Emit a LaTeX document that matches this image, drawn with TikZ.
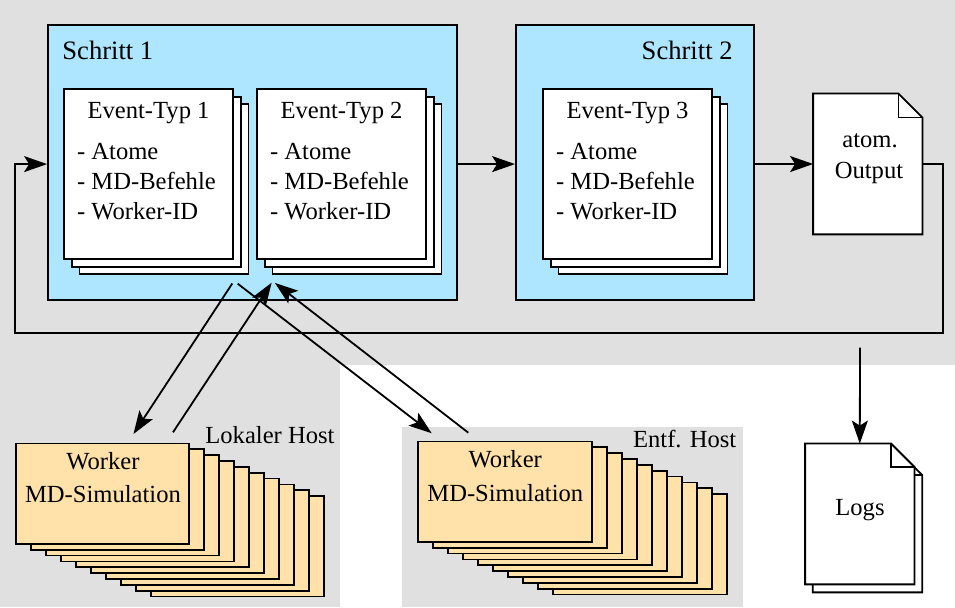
\documentclass[tikz,border=0pt]{standalone}
\usepackage{fontspec}
\setmainfont{Liberation Serif}
\usetikzlibrary{shadows,arrows.meta,calc}

\definecolor{hostgray}{RGB}{224,224,224}
\definecolor{stepblue}{RGB}{173,230,254}
\definecolor{workerorange}{RGB}{255,225,170}

\tikzset{
    arrow/.style={-{Stealth[length=11.5pt,width=8pt,inset=2.5pt]},line width=0.9pt},
    stepbox/.style={draw,line width=0.9pt,fill=stepblue},
    eventbox/.style={draw,line width=0.9pt,fill=white,minimum width=84.5pt,minimum height=85pt,
        double copy shadow={shadow xshift=3.85pt,shadow yshift=-3.85pt,draw,line width=0.9pt,fill=white}},
    workerbox/.style={draw,line width=0.9pt,fill=workerorange,minimum width=86.8pt,minimum height=50.2pt,inner sep=0pt},
    docbox/.style={minimum width=54.3pt,minimum height=70pt,inner sep=0pt},
    txt/.style={inner sep=0pt,font=\fontsize{12.3}{15}\selectfont},
}

\begin{document}
\begin{tikzpicture}[x=0.5pt,y=-0.5pt]
        \useasboundingbox (0,0) rectangle (955,608);
        % hosts
        \fill[hostgray] (0,0) rectangle (955,365);
        \fill[hostgray] (0,365) rectangle (340,607);
        \fill[hostgray] (402,427) rectangle (743,607);

        % steps
        \node[stepbox,minimum width=204.5pt,minimum height=137.5pt] (s1) at (252.5,162.5) {};
        \node[stepbox,minimum width=119pt,minimum height=137.5pt] (s2) at (635,162.5) {};
        \node[txt,anchor=base west,font=\fontsize{13.3}{15}\selectfont] (s1-label) at (62,60) {Schritt 1};
        \node[txt,anchor=base east,font=\fontsize{13.3}{15}\selectfont] (s2-label) at (733,60) {Schritt 2};

        \foreach \n/\x/\t in {e1/148.5/1, e2/341.5/2, e3/627.5/3} {
            \node[eventbox] (\n) at (\x,174) {};
            \node[txt,anchor=base] (\n-title) at (\x,119) {Event-Typ \t};
            \node[txt,anchor=base west] (\n-a) at (\x-71.8,159.5) {- Atome};
            \node[txt,anchor=base west] (\n-b) at (\x-71.8,190) {- MD-Befehle};
            \node[txt,anchor=base west] (\n-c) at (\x-71.8,220) {- Worker-ID};
        }

        % atomic output
        \node[docbox] (out) at (867.8,164) {};
        \filldraw[fill=white,line width=0.9pt] (out.north west) -- ([xshift=-12pt]out.north east)
            -- ([yshift=-12pt]out.north east) -- (out.south east) -- (out.south west) -- cycle;
        \draw[line width=0.9pt] ([xshift=-12pt]out.north east) |- ([yshift=-12pt]out.north east);
        \node[txt,anchor=base] (out-a) at (870,148) {atom.};
        \node[txt,anchor=base] (out-b) at (869,179) {Output};

        % logs
        \node[docbox] (logs-back) at (867.5,522) {};
        \node[docbox] (logs) at (859.8,514) {};
        \foreach \d in {logs-back,logs} {
            \filldraw[fill=white,line width=0.9pt] (\d.north west) -- ([xshift=-11.7pt]\d.north east)
                -- ([yshift=-11.7pt]\d.north east) -- (\d.south east) -- (\d.south west) -- cycle;
            \draw[line width=0.9pt] ([xshift=-11.7pt]\d.north east) |- ([yshift=-11.7pt]\d.north east);
        }
        \node[txt,anchor=base] (logs-label) at (860,516) {Logs};

        % workers
        \foreach \k in {9,...,1} {
            \node[workerbox] (lw\k) at (102.5+15*\k,493.7+5.85*\k) {};
            \node[workerbox] (rw\k) at (505+15*\k,491.7+5.85*\k) {};
        }
        \node[workerbox] (lw) at (102.5,493.7) {};
        \node[workerbox] (rw) at (505,491.7) {};
        \node[txt,anchor=base] (lw-a) at (103,470) {Worker};
        \node[txt,anchor=base] (lw-b) at (103,502.7) {MD-Simulation};
        \node[txt,anchor=base] (rw-a) at (505.3,468) {Worker};
        \node[txt,anchor=base] (rw-b) at (505.3,501.7) {MD-Simulation};
        \node[txt,anchor=base west] (local) at (205,443.3) {Lokaler Host};
        \node[txt,anchor=base east] (remote) at (736.7,447.3) {Entf. Host};

        % flow
        \draw[arrow] ([yshift=-0.8pt]s1.east) -- ([yshift=-0.8pt]s2.west);
        \draw[arrow] ([yshift=-0.8pt]s2.east) -- (out.west);
        \coordinate (loop-r) at (943,333);
        \coordinate (loop-l) at (15,333);
        \draw[arrow] (out.east) -| (loop-r) -- (loop-l) |- ([yshift=-0.8pt]s1.west);
        \coordinate (logs-in) at (860,347.7);
        \draw[arrow] (logs-in) -- (logs.north);

        % dispatch
        \coordinate (s1-a) at (232.3,283.5);
        \coordinate (s1-b) at (271.7,282.7);
        \coordinate (s1-c) at (237.7,283.7);
        \coordinate (s1-d) at (275,283);
        \coordinate (lw-in) at (133.5,434);
        \coordinate (lw-out) at (173,432.3);
        \coordinate (rw-in) at (431.7,433.3);
        \coordinate (rw-out) at (468.3,432.7);
        \draw[arrow] (s1-a) -- (lw-in);
        \draw[arrow] (lw-out) -- (s1-b);
        \draw[arrow] (s1-c) -- (rw-in);
        \draw[arrow] (rw-out) -- (s1-d);
    \end{tikzpicture}
\end{document}
